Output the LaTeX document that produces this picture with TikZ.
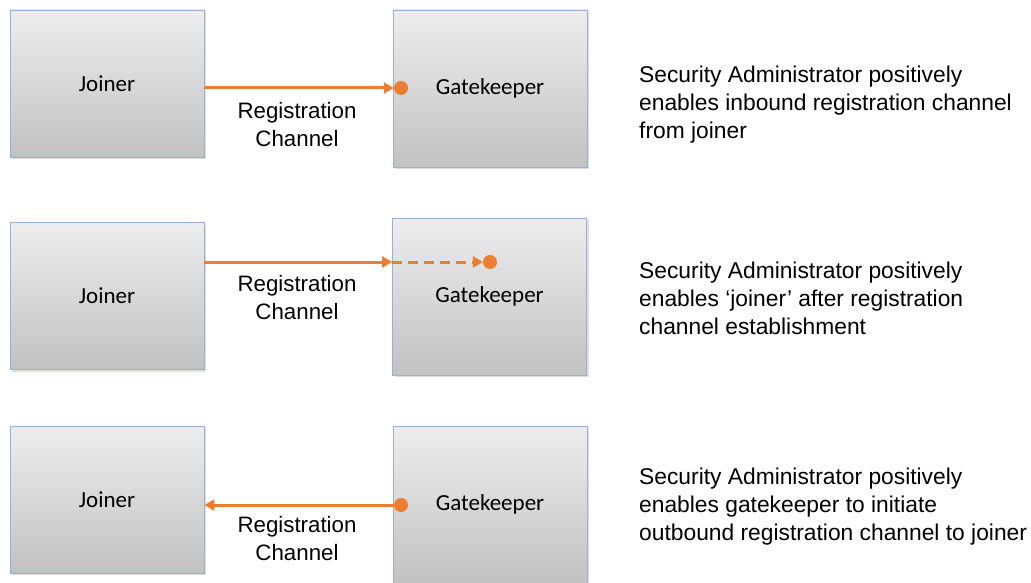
\documentclass[tikz,border=0pt]{standalone}
\usepackage{fontspec}
\setmainfont{Liberation Sans}
\newfontfamily\carlitofont{Carlito}
\usetikzlibrary{arrows.meta,shadows}
\definecolor{orng}{RGB}{237,125,49}
\definecolor{boxline}{RGB}{150,175,220}
\tikzset{
  box/.style={draw=boxline, line width=0.8pt, top color=black!7, bottom color=black!24,
    drop shadow={shadow xshift=2pt, shadow yshift=-2pt, opacity=0.25},
    font=\carlitofont\fontsize{23}{26}\selectfont, inner sep=0pt},
  joinerbox/.style={box, minimum width=194pt, minimum height=147pt},
  gatebox/.style={box, minimum width=194pt, minimum height=157pt},
  chan/.style={draw=orng, line width=3pt, -{Triangle[length=10pt,width=11pt]}},
  chandash/.style={chan, dash pattern=on 10pt off 6pt},
  dotnode/.style={circle, fill=orng, minimum size=14pt, inner sep=0pt},
  lbl/.style={align=center, font=\fontsize{22.3}{28}\selectfont},
  desc/.style={align=left, anchor=west, font=\fontsize{22.8}{28}\selectfont, inner sep=0pt},
}
\begin{document}
\begin{tikzpicture}[x=1pt,y=-1pt]
\useasboundingbox (0,0) rectangle (1031,583);
\fill[white] (0,0) rectangle (1031,583);
% Row 1
\node[joinerbox] (j1) at (107,83.5) {Joiner};
\node[gatebox] (g1) at (490,88.5) {Gatekeeper};
\node[dotnode] (d1) at (401,88) {};
\draw[chan] (j1.east |- d1) -- (d1.west);
\node[lbl] (l1) at (297,125) {Registration\\Channel};
\node[desc] (t1) at (639,105) {Security Administrator positively\\enables inbound registration channel\\from joiner};
% Row 2
\node[joinerbox] (j2) at (107,296) {Joiner};
\node[gatebox] (g2) at (489.5,296.5) {Gatekeeper};
\node[dotnode] (d2) at (490,262) {};
\coordinate (e2) at (g2.west |- d2);
\draw[chan] (j2.east |- d2) -- (e2);
\draw[chandash] (e2) -- (d2.west);
\node[lbl] (l2) at (297,297.5) {Registration\\Channel};
\node[desc] (t2) at (639,298) {Security Administrator positively\\enables `joiner' after registration\\channel establishment};
% Row 3
\node[joinerbox] (j3) at (107,499.5) {Joiner};
\node[gatebox] (g3) at (490,504.5) {Gatekeeper};
\node[dotnode] (d3) at (401,505) {};
\draw[chan] (d3.west) -- (j3.east |- d3);
\node[lbl] (l3) at (297,538.5) {Registration\\Channel};
\node[desc] (t3) at (639,507) {Security Administrator positively\\enables gatekeeper to initiate\\outbound registration channel to joiner};
\end{tikzpicture}
\end{document}
